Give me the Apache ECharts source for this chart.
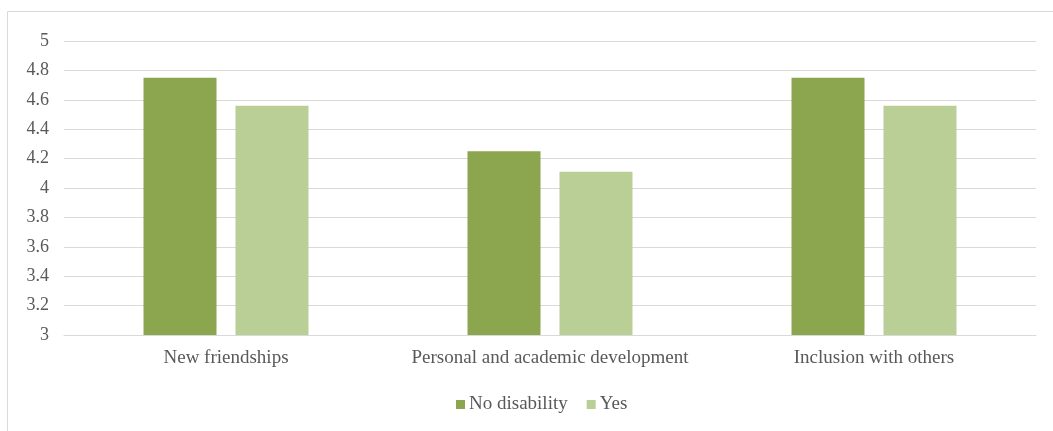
<!DOCTYPE html>
<html><head><meta charset="utf-8">
<script src="https://cdn.jsdelivr.net/npm/echarts@6/dist/echarts.min.js"></script>
<style>html,body{margin:0;padding:0;background:#fff}#c{width:1053px;height:431px}</style>
</head><body><div id="c"></div>
<script>
const categories = ["New friendships", "Personal and academic development", "Inclusion with others"];
const noDisability = [4.75, 4.25, 4.75];
const yes = [4.56, 4.11, 4.56];
const seriesNames = ["No disability", "Yes"];

const chart = echarts.init(document.getElementById('c'));
const font = "Liberation Serif";
chart.setOption({
  animation: false,
  graphic: [{type:'rect', shape:{x:7.5,y:11.5,width:1060,height:430}, style:{fill:'none', stroke:'#d9d9d9', lineWidth:1}}],
  grid: {left: 64, right: 17, top: 41, bottom: 96, containLabel: false},
  legend: {
    top: 390, left: 451, itemWidth: 9, itemHeight: 9, itemGap: 19,
    icon: 'rect',
    textStyle: {fontFamily: font, fontSize: 19, color: '#595959', padding:[0,0,0,-1]},
    data: seriesNames
  },
  xAxis: {
    type: 'category', data: categories,
    axisLine: {lineStyle: {color: '#d9d9d9', width: 1}},
    axisTick: {show: false},
    axisLabel: {fontFamily: font, fontSize: 19, color: '#595959', margin: 14, interval: 0}
  },
  yAxis: {
    type: 'value', min: 3, max: 5, interval: 0.2,
    axisLine: {show: false}, axisTick: {show: false},
    splitLine: {lineStyle: {color: '#d9d9d9', width: 1}},
    axisLabel: {fontFamily: font, fontSize: 18, color: '#595959', margin: 15,
      formatter: v => String(Math.round(v*10)/10)}
  },
  series: [
    {name: seriesNames[0], type: 'bar', data: noDisability, barWidth: 73, barGap: '26%',
     itemStyle: {color: '#8BA64E'}},
    {name: seriesNames[1], type: 'bar', data: yes, barWidth: 73,
     itemStyle: {color: '#B9CF96'}}
  ]
});
</script></body></html>
